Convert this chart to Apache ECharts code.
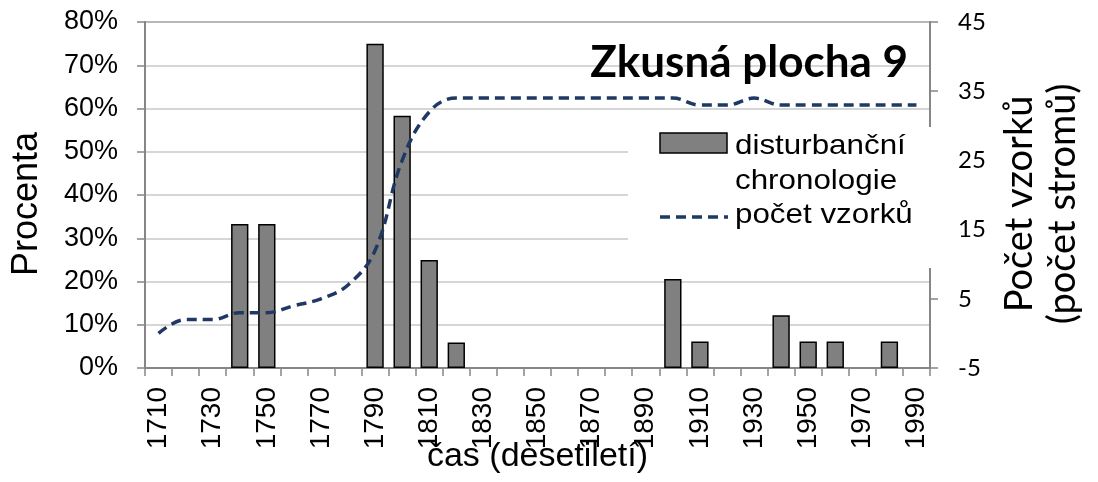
<!DOCTYPE html>
<html>
<head>
<meta charset="utf-8">
<script src="https://cdn.jsdelivr.net/npm/echarts@6/dist/echarts.min.js"></script>
<style>
  html, body { margin: 0; padding: 0; background: #fff; }
  #chart { width: 1098px; height: 482px; }
</style>
</head>
<body>
<div id="chart"></div>
<script>
// decades on the x axis
const decades = ['1710', '1720', '1730', '1740', '1750', '1760', '1770', '1780', '1790', '1800',
  '1810', '1820', '1830', '1840', '1850', '1860', '1870', '1880', '1890', '1900',
  '1910', '1920', '1930', '1940', '1950', '1960', '1970', '1980', '1990']
// disturbanční chronologie (%), '-' = no bar
const disturbance = ['-', '-', '-', 33.3, 33.3, '-', '-', '-', 75, 58.3,
  25, 5.9, '-', '-', '-', '-', '-', '-', '-', 20.6,
  6.1, '-', '-', 12.2, 6.1, 6.1, '-', 6.1, '-']
// počet vzorků (count of trees)
const sampleDepth = [0, 2, 2, 3, 3, 4, 5, 7, 12, 25,
  32, 34, 34, 34, 34, 34, 34, 34, 34, 34,
  33, 33, 34, 33, 33, 33, 33, 33, 33]

const leftTicks = [0, 80, 10]   // min, max, step (%)
const rightTicks = [-5, 45, 10]

const axisGray = '#868686'
const navy = '#1f3864'
const arial = "'Liberation Sans', Arial, sans-serif"
const calibri = "Lato, 'Open Sans', sans-serif"

let chart = echarts.init(document.getElementById('chart'))

const option = {
    animation: false,
    backgroundColor: '#fff',
    grid: {
        left: 145,
        right: 168,
        top: 22,
        bottom: 114,
        outerBoundsMode: 'none',
        containLabel: false,
        show: true,
        borderColor: axisGray,
        borderWidth: 2
    },
    xAxis: {
        type: 'category',
        data: decades,
        name: 'čas (desetiletí)',
        nameLocation: 'middle',
        nameGap: 72,
        nameMoveOverlap: false,
        nameTextStyle: { fontFamily: arial, fontSize: 34, color: '#000', verticalAlign: 'top' },
        axisLine: { lineStyle: { color: axisGray, width: 2 } },
        axisTick: { show: true, interval: 0, length: 8, lineStyle: { color: axisGray, width: 1.5 } },
        axisLabel: {
            interval: 1,
            rotate: 90,
            margin: 19,
            fontFamily: arial,
            fontSize: 28,
            color: '#000'
        },
        splitLine: { show: false }
    },
    yAxis: [{
        type: 'value',
        min: leftTicks[0],
        max: leftTicks[1],
        interval: leftTicks[2],
        name: 'Procenta',
        nameLocation: 'middle',
        nameGap: 100,
        nameRotate: 90,
        nameMoveOverlap: false,
        nameTextStyle: { fontFamily: arial, fontSize: 36, color: '#000', padding: [0, 18, 0, 0] },
        axisLine: { show: true, lineStyle: { color: axisGray, width: 2 } },
        axisTick: { show: true, length: 8, lineStyle: { color: axisGray, width: 1.5 } },
        axisLabel: {
            formatter: '{value}%',
            margin: 27,
            fontFamily: arial,
            fontSize: 27,
            color: '#000'
        },
        splitLine: { lineStyle: { color: '#c8c8c8', width: 1.5 } }
    }, {
        type: 'value',
        position: 'right',
        min: rightTicks[0],
        max: rightTicks[1],
        interval: rightTicks[2],
        name: 'Počet vzorků\n(počet stromů)',
        nameLocation: 'middle',
        nameGap: 68,
        nameRotate: 90,
        nameMoveOverlap: false,
        nameTextStyle: { fontFamily: calibri, fontSize: 38, color: '#000', lineHeight: 43, align: 'center', padding: [0, 18, 0, 0] },
        axisLine: { show: true, lineStyle: { color: axisGray, width: 2 } },
        axisTick: { show: true, length: 8, lineStyle: { color: axisGray, width: 1.5 } },
        axisLabel: {
            margin: 28,
            fontFamily: calibri,
            fontSize: 24,
            color: '#000'
        },
        splitLine: { show: false }
    }],
    series: [{
        name: 'disturbanční chronologie',
        type: 'bar',
        yAxisIndex: 0,
        data: disturbance,
        barCategoryGap: '36%',
        itemStyle: { color: '#808080', borderColor: '#000', borderWidth: 1.5 }
    }, {
        name: 'počet vzorků',
        type: 'line',
        yAxisIndex: 1,
        data: sampleDepth,
        smooth: 0.4,
        symbol: 'none',
        lineStyle: { color: navy, width: 3.5, type: [10, 6] }
    }],
    graphic: [
        // title
        {
            type: 'text', right: 190, top: 41, z: 100,
            style: { text: 'Zkusná plocha 9', font: 'bold 44px ' + calibri, fill: '#000' }
        },
        // legend box
        {
            type: 'rect', z: 100,
            shape: { x: 628, y: 127, width: 312, height: 141 },
            style: { fill: '#fff' }
        },
        {
            type: 'rect', z: 101,
            shape: { x: 660, y: 133, width: 67, height: 20 },
            style: { fill: '#808080', stroke: '#000', lineWidth: 1.5 }
        },
        {
            type: 'text', z: 101, x: 735, y: 146, scaleX: 1.1,
            style: { text: 'disturbanční', font: '28.5px ' + arial, fill: '#000', verticalAlign: 'middle' }
        },
        {
            type: 'text', z: 101, x: 735, y: 181, scaleX: 1.1,
            style: { text: 'chronologie', font: '28.5px ' + arial, fill: '#000', verticalAlign: 'middle' }
        },
        {
            type: 'line', z: 101,
            shape: { x1: 660, y1: 217, x2: 728, y2: 217 },
            style: { stroke: navy, lineWidth: 3.5, lineDash: [10, 6] }
        },
        {
            type: 'text', z: 101, x: 735, y: 215, scaleX: 1.1,
            style: { text: 'počet vzorků', font: '28.5px ' + arial, fill: '#000', verticalAlign: 'middle' }
        }
    ]
}

chart.setOption(option)
</script>
</body>
</html>
